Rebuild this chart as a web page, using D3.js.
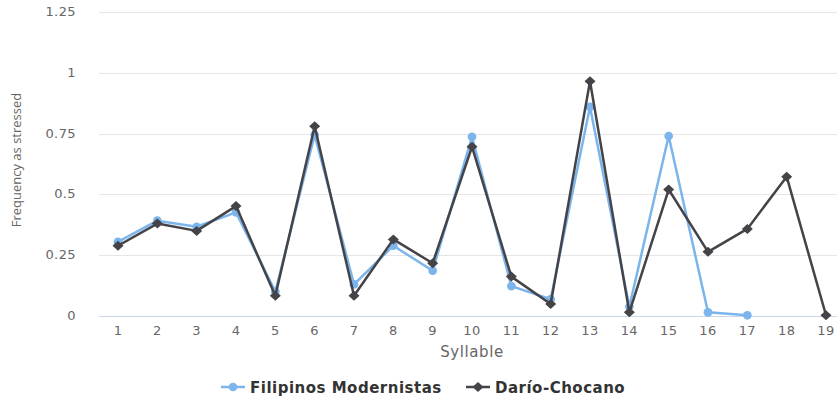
<!DOCTYPE html>
<html>
<head>
<meta charset="utf-8">
<script src="https://cdn.jsdelivr.net/npm/d3@7"></script>
<style>
  body { margin: 0; background: #fff; }
  text { font-family: "DejaVu Sans", sans-serif; }
</style>
</head>
<body>
<svg class="canvas" width="837" height="401"></svg>
<script>
const syllables = ["1","2","3","4","5","6","7","8","9","10","11","12","13","14","15","16","17","18","19"];
const filipinos = [0.305, 0.392, 0.367, 0.426, 0.10, 0.745, 0.13, 0.289, 0.186, 0.737, 0.123, 0.069, 0.86, 0.038, 0.74, 0.015, 0.003];
const dario = [0.289, 0.38, 0.35, 0.452, 0.083, 0.78, 0.083, 0.315, 0.217, 0.696, 0.162, 0.049, 0.965, 0.015, 0.52, 0.264, 0.358, 0.573, 0.003];
const yTicks = [0, 0.25, 0.5, 0.75, 1, 1.25];

const series = [
  { name: "Filipinos Modernistas", values: filipinos, color: "#7cb5ec", symbol: "circle" },
  { name: "Darío-Chocano", values: dario, color: "#434348", symbol: "diamond" }
];

const svg = d3.select(".canvas");

const x = d3.scalePoint().domain(syllables).range([118, 826]);
const y = d3.scaleLinear().domain([0, 1.25]).range([316, 12]);

// grid
svg.append("g")
  .selectAll("line")
  .data(yTicks)
  .enter()
  .append("line")
  .attr("x1", 99)
  .attr("x2", 837)
  .attr("y1", d => Math.round(y(d)) + 0.5)
  .attr("y2", d => Math.round(y(d)) + 0.5)
  .style("stroke", d => d === 0 ? "#ccd6eb" : "#e6e6e6")
  .style("stroke-width", 1);

// y labels
svg.append("g")
  .selectAll("text")
  .data(yTicks)
  .enter()
  .append("text")
  .attr("x", 76)
  .attr("y", d => y(d) + 4)
  .attr("text-anchor", "end")
  .style("font-size", "13px")
  .style("letter-spacing", "0.4px")
  .style("fill", "#666")
  .text(d => d);

// x labels
svg.append("g")
  .selectAll("text")
  .data(syllables)
  .enter()
  .append("text")
  .attr("x", d => x(d))
  .attr("y", 335)
  .attr("text-anchor", "middle")
  .style("font-size", "13px")
  .style("letter-spacing", "0.4px")
  .style("fill", "#666")
  .text(d => d);

// axis titles
svg.append("text")
  .attr("x", 472)
  .attr("y", 357)
  .attr("text-anchor", "middle")
  .style("font-size", "15px")
  .style("letter-spacing", "0.6px")
  .style("fill", "#666")
  .text("Syllable");

svg.append("text")
  .attr("transform", "translate(21,160) rotate(-90)")
  .attr("text-anchor", "middle")
  .style("font-family", "'Open Sans', sans-serif")
  .style("font-size", "13px")
  .style("fill", "#666")
  .text("Frequency as stressed");

const line = d3.line()
  .x((d, i) => x(syllables[i]))
  .y(d => y(d));

const symbolPath = s => s === "circle"
  ? d3.symbol().type(d3.symbolCircle).size(60)()
  : "M0,-5L5.5,0L0,5L-5.5,0Z";

series.forEach(s => {
  const g = svg.append("g");
  g.append("path")
    .datum(s.values)
    .attr("d", line)
    .style("fill", "none")
    .style("stroke", s.color)
    .style("stroke-width", 2.5)
    .style("stroke-linejoin", "round");

  g.selectAll("path.pt")
    .data(s.values)
    .enter()
    .append("path")
    .attr("class", "pt")
    .attr("transform", (d, i) => `translate(${x(syllables[i])},${y(d)})`)
    .attr("d", symbolPath(s.symbol))
    .style("fill", s.color);
});

// legend
const legendX = [221, 466];
series.forEach((s, i) => {
  const g = svg.append("g").attr("transform", `translate(${legendX[i]},387)`);
  g.append("line")
    .attr("x1", 0).attr("x2", 24)
    .style("stroke", s.color)
    .style("stroke-width", 2.5);
  g.append("path")
    .attr("transform", "translate(12,0)")
    .attr("d", symbolPath(s.symbol))
    .style("fill", s.color);
  g.append("text")
    .attr("x", 29)
    .attr("y", 6)
    .style("font-size", "15px")
    .style("font-weight", "bold")
    .style("letter-spacing", "0.5px")
    .style("fill", "#333")
    .text(s.name);
});
</script>
</body>
</html>
